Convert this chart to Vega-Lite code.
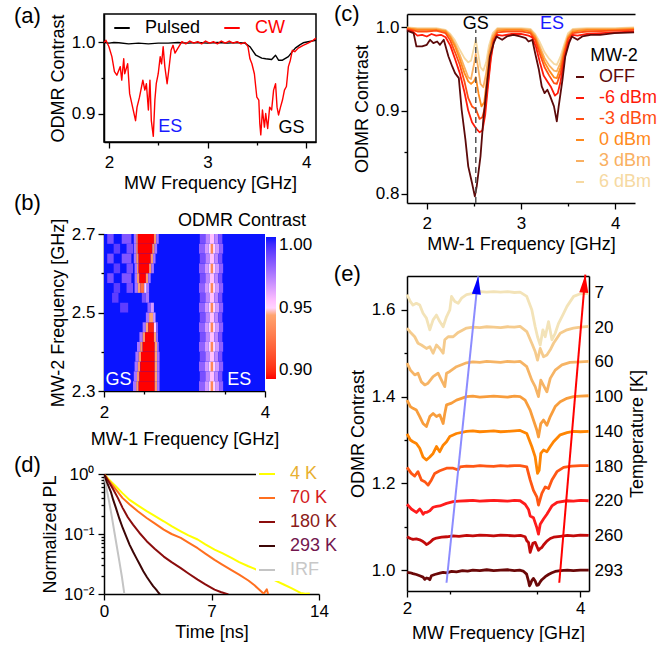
{
"$schema":"https://vega.github.io/schema/vega-lite/v6.json",
"background":"white",
"padding":{"left":13,"top":3,"right":0,"bottom":0},
"config":{
 "font":"Liberation Sans",
 "view":{"stroke":null},
 "axis":{"grid":false,"domainColor":"black","domainWidth":1.5,"tickColor":"black","tickWidth":1.3,"tickSize":6,"labelFont":"Liberation Sans","labelFontSize":17,"labelColor":"black","titleFont":"Liberation Sans","titleFontSize":18,"titleFontWeight":"normal","titleColor":"black","labelPadding":3,"titlePadding":4,"labelFlush":false,"labelOverlap":false},
 "legend":{"labelFont":"Liberation Sans","labelFontSize":18,"titleFont":"Liberation Sans","titleFontSize":18,"titleFontWeight":"normal","titleColor":"black","labelColor":"black"},
 "title":{"font":"Liberation Sans","fontSize":22,"fontWeight":"normal","color":"black","anchor":"start","frame":"group","baseline":"top"},
 "line":{"strokeJoin":"round"}
},
"datasets":{
 "a":[
  {"s":"Pulsed","f":1.95,"c":1.0},{"s":"Pulsed","f":2.0,"c":0.999},{"s":"Pulsed","f":2.05,"c":1.0},{"s":"Pulsed","f":2.1,"c":0.9995},{"s":"Pulsed","f":2.2,"c":0.998},{"s":"Pulsed","f":2.3,"c":0.999},{"s":"Pulsed","f":2.4,"c":0.998},{"s":"Pulsed","f":2.5,"c":0.999},{"s":"Pulsed","f":2.6,"c":0.999},{"s":"Pulsed","f":2.7,"c":1.0},{"s":"Pulsed","f":2.8,"c":0.999},{"s":"Pulsed","f":2.9,"c":1.0},{"s":"Pulsed","f":3.0,"c":0.999},{"s":"Pulsed","f":3.1,"c":1.0},{"s":"Pulsed","f":3.2,"c":0.999},{"s":"Pulsed","f":3.3,"c":1.0},{"s":"Pulsed","f":3.38,"c":0.999},{"s":"Pulsed","f":3.43,"c":0.994},{"s":"Pulsed","f":3.49,"c":0.982},{"s":"Pulsed","f":3.55,"c":0.978},{"s":"Pulsed","f":3.59,"c":0.977},{"s":"Pulsed","f":3.65,"c":0.976},{"s":"Pulsed","f":3.69,"c":0.982},{"s":"Pulsed","f":3.72,"c":0.975},{"s":"Pulsed","f":3.76,"c":0.975},{"s":"Pulsed","f":3.82,"c":0.98},{"s":"Pulsed","f":3.86,"c":0.987},{"s":"Pulsed","f":3.89,"c":0.992},{"s":"Pulsed","f":3.94,"c":0.997},{"s":"Pulsed","f":3.97,"c":0.9995},{"s":"Pulsed","f":4.02,"c":1.001},{"s":"Pulsed","f":4.1,"c":1.003},
  {"s":"CW","f":1.95,"c":1.0},{"s":"CW","f":1.97,"c":1.003},{"s":"CW","f":2.0,"c":0.994},{"s":"CW","f":2.03,"c":0.98},{"s":"CW","f":2.056,"c":0.959},{"s":"CW","f":2.08,"c":0.954},{"s":"CW","f":2.115,"c":0.966},{"s":"CW","f":2.13,"c":0.947},{"s":"CW","f":2.15,"c":0.977},{"s":"CW","f":2.16,"c":0.956},{"s":"CW","f":2.19,"c":0.97},{"s":"CW","f":2.21,"c":0.928},{"s":"CW","f":2.24,"c":0.909},{"s":"CW","f":2.27,"c":0.89},{"s":"CW","f":2.285,"c":0.909},{"s":"CW","f":2.31,"c":0.923},{"s":"CW","f":2.344,"c":0.947},{"s":"CW","f":2.364,"c":0.933},{"s":"CW","f":2.38,"c":0.942},{"s":"CW","f":2.4,"c":0.905},{"s":"CW","f":2.416,"c":0.947},{"s":"CW","f":2.43,"c":0.89},{"s":"CW","f":2.45,"c":0.868},{"s":"CW","f":2.466,"c":0.919},{"s":"CW","f":2.48,"c":0.942},{"s":"CW","f":2.5,"c":0.956},{"s":"CW","f":2.52,"c":0.98},{"s":"CW","f":2.534,"c":0.97},{"s":"CW","f":2.55,"c":0.994},{"s":"CW","f":2.567,"c":0.966},{"s":"CW","f":2.59,"c":0.942},{"s":"CW","f":2.607,"c":0.961},{"s":"CW","f":2.63,"c":0.989},{"s":"CW","f":2.65,"c":0.996},{"s":"CW","f":2.67,"c":0.985},{"s":"CW","f":2.7,"c":0.992},{"s":"CW","f":2.74,"c":1.001},{"s":"CW","f":2.78,"c":0.998},{"s":"CW","f":2.82,"c":1.002},{"s":"CW","f":2.86,"c":0.999},{"s":"CW","f":2.9,"c":1.001},{"s":"CW","f":2.94,"c":0.998},{"s":"CW","f":2.98,"c":1.002},{"s":"CW","f":3.02,"c":0.999},{"s":"CW","f":3.06,"c":1.001},{"s":"CW","f":3.1,"c":0.998},{"s":"CW","f":3.14,"c":1.002},{"s":"CW","f":3.18,"c":0.999},{"s":"CW","f":3.22,"c":1.002},{"s":"CW","f":3.26,"c":0.999},{"s":"CW","f":3.3,"c":1.001},{"s":"CW","f":3.34,"c":0.998},{"s":"CW","f":3.38,"c":1.0},{"s":"CW","f":3.41,"c":0.994},{"s":"CW","f":3.43,"c":0.977},{"s":"CW","f":3.45,"c":0.97},{"s":"CW","f":3.475,"c":0.956},{"s":"CW","f":3.5,"c":0.923},{"s":"CW","f":3.52,"c":0.919},{"s":"CW","f":3.53,"c":0.886},{"s":"CW","f":3.54,"c":0.87},{"s":"CW","f":3.557,"c":0.905},{"s":"CW","f":3.577,"c":0.881},{"s":"CW","f":3.59,"c":0.9},{"s":"CW","f":3.61,"c":0.879},{"s":"CW","f":3.63,"c":0.909},{"s":"CW","f":3.65,"c":0.905},{"s":"CW","f":3.67,"c":0.933},{"s":"CW","f":3.69,"c":0.942},{"s":"CW","f":3.705,"c":0.909},{"s":"CW","f":3.72,"c":0.898},{"s":"CW","f":3.74,"c":0.909},{"s":"CW","f":3.76,"c":0.919},{"s":"CW","f":3.78,"c":0.933},{"s":"CW","f":3.8,"c":0.938},{"s":"CW","f":3.82,"c":0.966},{"s":"CW","f":3.84,"c":0.975},{"s":"CW","f":3.86,"c":0.989},{"s":"CW","f":3.885,"c":0.987},{"s":"CW","f":3.92,"c":0.992},{"s":"CW","f":3.97,"c":0.996},{"s":"CW","f":4.02,"c":0.999},{"s":"CW","f":4.07,"c":1.003},{"s":"CW","f":4.1,"c":1.006}
 ],
 "aTxt":[{"t":"ES","x":2.5,"y":0.881},{"t":"GS","x":3.72,"y":0.879}],
 "b":[
  {"x1":2,"x2":4,"y1":2.3,"y2":2.7,"v":1.0},
  {"x1":2.36,"x2":2.4,"y1":2.3,"y2":2.325,"v":0.975},{"x1":2.4,"x2":2.43,"y1":2.3,"y2":2.325,"v":0.94},{"x1":2.43,"x2":2.63,"y1":2.3,"y2":2.325,"v":0.885},{"x1":2.63,"x2":2.66,"y1":2.3,"y2":2.325,"v":0.94},{"x1":2.66,"x2":2.69,"y1":2.3,"y2":2.325,"v":0.975},
  {"x1":3.18,"x2":3.25,"y1":2.3,"y2":2.325,"v":0.98},{"x1":3.25,"x2":3.3,"y1":2.3,"y2":2.325,"v":0.965},{"x1":3.3,"x2":3.38,"y1":2.3,"y2":2.325,"v":0.95},{"x1":3.38,"x2":3.43,"y1":2.3,"y2":2.325,"v":0.965},{"x1":3.43,"x2":3.48,"y1":2.3,"y2":2.325,"v":0.98},{"x1":3.325,"x2":3.355,"y1":2.3,"y2":2.325,"v":0.935},
  {"x1":2.37,"x2":2.41,"y1":2.325,"y2":2.35,"v":0.975},{"x1":2.41,"x2":2.44,"y1":2.325,"y2":2.35,"v":0.94},{"x1":2.44,"x2":2.63,"y1":2.325,"y2":2.35,"v":0.88},{"x1":2.63,"x2":2.66,"y1":2.325,"y2":2.35,"v":0.945},{"x1":2.66,"x2":2.69,"y1":2.325,"y2":2.35,"v":0.975},
  {"x1":3.19,"x2":3.26,"y1":2.325,"y2":2.35,"v":0.985},{"x1":3.26,"x2":3.31,"y1":2.325,"y2":2.35,"v":0.97},{"x1":3.31,"x2":3.37,"y1":2.325,"y2":2.35,"v":0.955},{"x1":3.37,"x2":3.42,"y1":2.325,"y2":2.35,"v":0.97},{"x1":3.42,"x2":3.47,"y1":2.325,"y2":2.35,"v":0.985},
  {"x1":2.38,"x2":2.42,"y1":2.35,"y2":2.375,"v":0.975},{"x1":2.42,"x2":2.45,"y1":2.35,"y2":2.375,"v":0.94},{"x1":2.45,"x2":2.63,"y1":2.35,"y2":2.375,"v":0.885},{"x1":2.63,"x2":2.66,"y1":2.35,"y2":2.375,"v":0.945},{"x1":2.66,"x2":2.69,"y1":2.35,"y2":2.375,"v":0.975},
  {"x1":3.18,"x2":3.25,"y1":2.35,"y2":2.375,"v":0.98},{"x1":3.25,"x2":3.3,"y1":2.35,"y2":2.375,"v":0.965},{"x1":3.3,"x2":3.38,"y1":2.35,"y2":2.375,"v":0.95},{"x1":3.38,"x2":3.43,"y1":2.35,"y2":2.375,"v":0.965},{"x1":3.43,"x2":3.48,"y1":2.35,"y2":2.375,"v":0.98},{"x1":3.325,"x2":3.355,"y1":2.35,"y2":2.375,"v":0.935},
  {"x1":2.39,"x2":2.43,"y1":2.375,"y2":2.4,"v":0.975},{"x1":2.43,"x2":2.46,"y1":2.375,"y2":2.4,"v":0.94},{"x1":2.46,"x2":2.63,"y1":2.375,"y2":2.4,"v":0.885},{"x1":2.63,"x2":2.66,"y1":2.375,"y2":2.4,"v":0.945},{"x1":2.66,"x2":2.69,"y1":2.375,"y2":2.4,"v":0.975},
  {"x1":3.19,"x2":3.26,"y1":2.375,"y2":2.4,"v":0.985},{"x1":3.26,"x2":3.31,"y1":2.375,"y2":2.4,"v":0.97},{"x1":3.31,"x2":3.37,"y1":2.375,"y2":2.4,"v":0.955},{"x1":3.37,"x2":3.42,"y1":2.375,"y2":2.4,"v":0.97},{"x1":3.42,"x2":3.47,"y1":2.375,"y2":2.4,"v":0.985},
  {"x1":2.41,"x2":2.45,"y1":2.4,"y2":2.425,"v":0.975},{"x1":2.45,"x2":2.48,"y1":2.4,"y2":2.425,"v":0.94},{"x1":2.48,"x2":2.63,"y1":2.4,"y2":2.425,"v":0.89},{"x1":2.63,"x2":2.66,"y1":2.4,"y2":2.425,"v":0.945},{"x1":2.66,"x2":2.68,"y1":2.4,"y2":2.425,"v":0.975},
  {"x1":3.18,"x2":3.25,"y1":2.4,"y2":2.425,"v":0.98},{"x1":3.25,"x2":3.3,"y1":2.4,"y2":2.425,"v":0.965},{"x1":3.3,"x2":3.38,"y1":2.4,"y2":2.425,"v":0.95},{"x1":3.38,"x2":3.43,"y1":2.4,"y2":2.425,"v":0.965},{"x1":3.43,"x2":3.48,"y1":2.4,"y2":2.425,"v":0.98},{"x1":3.325,"x2":3.355,"y1":2.4,"y2":2.425,"v":0.935},
  {"x1":2.44,"x2":2.48,"y1":2.425,"y2":2.45,"v":0.975},{"x1":2.48,"x2":2.51,"y1":2.425,"y2":2.45,"v":0.94},{"x1":2.51,"x2":2.62,"y1":2.425,"y2":2.45,"v":0.895},{"x1":2.62,"x2":2.65,"y1":2.425,"y2":2.45,"v":0.945},{"x1":2.65,"x2":2.67,"y1":2.425,"y2":2.45,"v":0.975},
  {"x1":3.19,"x2":3.26,"y1":2.425,"y2":2.45,"v":0.985},{"x1":3.26,"x2":3.31,"y1":2.425,"y2":2.45,"v":0.97},{"x1":3.31,"x2":3.37,"y1":2.425,"y2":2.45,"v":0.955},{"x1":3.37,"x2":3.42,"y1":2.425,"y2":2.45,"v":0.97},{"x1":3.42,"x2":3.47,"y1":2.425,"y2":2.45,"v":0.985},
  {"x1":2.48,"x2":2.52,"y1":2.45,"y2":2.475,"v":0.975},{"x1":2.52,"x2":2.55,"y1":2.45,"y2":2.475,"v":0.945},{"x1":2.55,"x2":2.62,"y1":2.45,"y2":2.475,"v":0.905},{"x1":2.62,"x2":2.65,"y1":2.45,"y2":2.475,"v":0.95},{"x1":2.65,"x2":2.67,"y1":2.45,"y2":2.475,"v":0.98},
  {"x1":3.18,"x2":3.25,"y1":2.45,"y2":2.475,"v":0.98},{"x1":3.25,"x2":3.3,"y1":2.45,"y2":2.475,"v":0.965},{"x1":3.3,"x2":3.38,"y1":2.45,"y2":2.475,"v":0.95},{"x1":3.38,"x2":3.43,"y1":2.45,"y2":2.475,"v":0.965},{"x1":3.43,"x2":3.48,"y1":2.45,"y2":2.475,"v":0.98},{"x1":3.325,"x2":3.355,"y1":2.45,"y2":2.475,"v":0.935},
  {"x1":2.52,"x2":2.56,"y1":2.475,"y2":2.5,"v":0.975},{"x1":2.56,"x2":2.61,"y1":2.475,"y2":2.5,"v":0.945},{"x1":2.61,"x2":2.64,"y1":2.475,"y2":2.5,"v":0.965},
  {"x1":3.19,"x2":3.26,"y1":2.475,"y2":2.5,"v":0.985},{"x1":3.26,"x2":3.31,"y1":2.475,"y2":2.5,"v":0.97},{"x1":3.31,"x2":3.37,"y1":2.475,"y2":2.5,"v":0.955},{"x1":3.37,"x2":3.42,"y1":2.475,"y2":2.5,"v":0.97},{"x1":3.42,"x2":3.47,"y1":2.475,"y2":2.5,"v":0.985},
  {"x1":2.54,"x2":2.58,"y1":2.5,"y2":2.525,"v":0.98},{"x1":2.58,"x2":2.62,"y1":2.5,"y2":2.525,"v":0.965},{"x1":2.2,"x2":2.3,"y1":2.5,"y2":2.525,"v":0.99},
  {"x1":3.18,"x2":3.25,"y1":2.5,"y2":2.525,"v":0.98},{"x1":3.25,"x2":3.3,"y1":2.5,"y2":2.525,"v":0.965},{"x1":3.3,"x2":3.38,"y1":2.5,"y2":2.525,"v":0.95},{"x1":3.38,"x2":3.43,"y1":2.5,"y2":2.525,"v":0.965},{"x1":3.43,"x2":3.48,"y1":2.5,"y2":2.525,"v":0.98},{"x1":3.325,"x2":3.355,"y1":2.5,"y2":2.525,"v":0.935},
  {"x1":2.47,"x2":2.52,"y1":2.525,"y2":2.55,"v":0.985},{"x1":2.52,"x2":2.56,"y1":2.525,"y2":2.55,"v":0.975},{"x1":2.1,"x2":2.18,"y1":2.525,"y2":2.55,"v":0.99},
  {"x1":3.19,"x2":3.26,"y1":2.525,"y2":2.55,"v":0.985},{"x1":3.26,"x2":3.31,"y1":2.525,"y2":2.55,"v":0.97},{"x1":3.31,"x2":3.37,"y1":2.525,"y2":2.55,"v":0.955},{"x1":3.37,"x2":3.42,"y1":2.525,"y2":2.55,"v":0.97},{"x1":3.42,"x2":3.47,"y1":2.525,"y2":2.55,"v":0.985},
  {"x1":2.38,"x2":2.42,"y1":2.55,"y2":2.575,"v":0.975},{"x1":2.42,"x2":2.45,"y1":2.55,"y2":2.575,"v":0.945},{"x1":2.45,"x2":2.5,"y1":2.55,"y2":2.575,"v":0.925},{"x1":2.5,"x2":2.53,"y1":2.55,"y2":2.575,"v":0.95},{"x1":2.53,"x2":2.56,"y1":2.55,"y2":2.575,"v":0.975},{"x1":2.12,"x2":2.2,"y1":2.55,"y2":2.575,"v":0.99},{"x1":2.28,"x2":2.36,"y1":2.55,"y2":2.575,"v":0.985},
  {"x1":3.18,"x2":3.25,"y1":2.55,"y2":2.575,"v":0.98},{"x1":3.25,"x2":3.3,"y1":2.55,"y2":2.575,"v":0.965},{"x1":3.3,"x2":3.38,"y1":2.55,"y2":2.575,"v":0.95},{"x1":3.38,"x2":3.43,"y1":2.55,"y2":2.575,"v":0.965},{"x1":3.43,"x2":3.48,"y1":2.55,"y2":2.575,"v":0.98},{"x1":3.325,"x2":3.355,"y1":2.55,"y2":2.575,"v":0.935},
  {"x1":2.38,"x2":2.41,"y1":2.575,"y2":2.6,"v":0.975},{"x1":2.41,"x2":2.44,"y1":2.575,"y2":2.6,"v":0.94},{"x1":2.44,"x2":2.52,"y1":2.575,"y2":2.6,"v":0.89},{"x1":2.52,"x2":2.55,"y1":2.575,"y2":2.6,"v":0.94},{"x1":2.55,"x2":2.58,"y1":2.575,"y2":2.6,"v":0.975},{"x1":2.04,"x2":2.12,"y1":2.575,"y2":2.6,"v":0.985},{"x1":2.22,"x2":2.34,"y1":2.575,"y2":2.6,"v":0.983},
  {"x1":3.19,"x2":3.26,"y1":2.575,"y2":2.6,"v":0.985},{"x1":3.26,"x2":3.31,"y1":2.575,"y2":2.6,"v":0.97},{"x1":3.31,"x2":3.37,"y1":2.575,"y2":2.6,"v":0.955},{"x1":3.37,"x2":3.42,"y1":2.575,"y2":2.6,"v":0.97},{"x1":3.42,"x2":3.47,"y1":2.575,"y2":2.6,"v":0.985},
  {"x1":2.38,"x2":2.41,"y1":2.6,"y2":2.625,"v":0.975},{"x1":2.41,"x2":2.43,"y1":2.6,"y2":2.625,"v":0.94},{"x1":2.43,"x2":2.56,"y1":2.6,"y2":2.625,"v":0.885},{"x1":2.56,"x2":2.59,"y1":2.6,"y2":2.625,"v":0.94},{"x1":2.59,"x2":2.62,"y1":2.6,"y2":2.625,"v":0.975},{"x1":2.12,"x2":2.2,"y1":2.6,"y2":2.625,"v":0.99},{"x1":2.28,"x2":2.36,"y1":2.6,"y2":2.625,"v":0.985},
  {"x1":3.18,"x2":3.25,"y1":2.6,"y2":2.625,"v":0.98},{"x1":3.25,"x2":3.3,"y1":2.6,"y2":2.625,"v":0.965},{"x1":3.3,"x2":3.38,"y1":2.6,"y2":2.625,"v":0.95},{"x1":3.38,"x2":3.43,"y1":2.6,"y2":2.625,"v":0.965},{"x1":3.43,"x2":3.48,"y1":2.6,"y2":2.625,"v":0.98},{"x1":3.325,"x2":3.355,"y1":2.6,"y2":2.625,"v":0.935},
  {"x1":2.37,"x2":2.4,"y1":2.625,"y2":2.65,"v":0.975},{"x1":2.4,"x2":2.43,"y1":2.625,"y2":2.65,"v":0.94},{"x1":2.43,"x2":2.58,"y1":2.625,"y2":2.65,"v":0.88},{"x1":2.58,"x2":2.61,"y1":2.625,"y2":2.65,"v":0.94},{"x1":2.61,"x2":2.64,"y1":2.625,"y2":2.65,"v":0.975},{"x1":2.04,"x2":2.12,"y1":2.625,"y2":2.65,"v":0.985},{"x1":2.22,"x2":2.34,"y1":2.625,"y2":2.65,"v":0.983},
  {"x1":3.19,"x2":3.26,"y1":2.625,"y2":2.65,"v":0.985},{"x1":3.26,"x2":3.31,"y1":2.625,"y2":2.65,"v":0.97},{"x1":3.31,"x2":3.37,"y1":2.625,"y2":2.65,"v":0.955},{"x1":3.37,"x2":3.42,"y1":2.625,"y2":2.65,"v":0.97},{"x1":3.42,"x2":3.47,"y1":2.625,"y2":2.65,"v":0.985},
  {"x1":2.37,"x2":2.4,"y1":2.65,"y2":2.675,"v":0.975},{"x1":2.4,"x2":2.42,"y1":2.65,"y2":2.675,"v":0.94},{"x1":2.42,"x2":2.6,"y1":2.65,"y2":2.675,"v":0.88},{"x1":2.6,"x2":2.63,"y1":2.65,"y2":2.675,"v":0.94},{"x1":2.63,"x2":2.66,"y1":2.65,"y2":2.675,"v":0.975},{"x1":2.12,"x2":2.2,"y1":2.65,"y2":2.675,"v":0.99},{"x1":2.28,"x2":2.36,"y1":2.65,"y2":2.675,"v":0.985},
  {"x1":3.18,"x2":3.25,"y1":2.65,"y2":2.675,"v":0.98},{"x1":3.25,"x2":3.3,"y1":2.65,"y2":2.675,"v":0.965},{"x1":3.3,"x2":3.38,"y1":2.65,"y2":2.675,"v":0.95},{"x1":3.38,"x2":3.43,"y1":2.65,"y2":2.675,"v":0.965},{"x1":3.43,"x2":3.48,"y1":2.65,"y2":2.675,"v":0.98},{"x1":3.325,"x2":3.355,"y1":2.65,"y2":2.675,"v":0.935},
  {"x1":2.37,"x2":2.4,"y1":2.675,"y2":2.7,"v":0.975},{"x1":2.4,"x2":2.42,"y1":2.675,"y2":2.7,"v":0.94},{"x1":2.42,"x2":2.62,"y1":2.675,"y2":2.7,"v":0.88},{"x1":2.62,"x2":2.65,"y1":2.675,"y2":2.7,"v":0.94},{"x1":2.65,"x2":2.68,"y1":2.675,"y2":2.7,"v":0.975},{"x1":2.04,"x2":2.12,"y1":2.675,"y2":2.7,"v":0.985},{"x1":2.22,"x2":2.34,"y1":2.675,"y2":2.7,"v":0.983},
  {"x1":3.19,"x2":3.26,"y1":2.675,"y2":2.7,"v":0.985},{"x1":3.26,"x2":3.31,"y1":2.675,"y2":2.7,"v":0.97},{"x1":3.31,"x2":3.37,"y1":2.675,"y2":2.7,"v":0.955},{"x1":3.37,"x2":3.42,"y1":2.675,"y2":2.7,"v":0.97},{"x1":3.42,"x2":3.47,"y1":2.675,"y2":2.7,"v":0.985}
 ],
 "bTxt":[{"t":"GS","x":2.02,"y":2.328},{"t":"ES","x":3.53,"y":2.328}],
 "bLbl":[{"t":"ODMR Contrast","x":4.509,"y":2.733}],
 "c":[
  {"p":"6 dBm","f":1.79,"c":1.0},{"p":"6 dBm","f":1.9,"c":0.999},{"p":"6 dBm","f":2.0,"c":0.999},{"p":"6 dBm","f":2.1,"c":0.999},{"p":"6 dBm","f":2.2,"c":0.997},{"p":"6 dBm","f":2.25,"c":0.992},{"p":"6 dBm","f":2.3,"c":0.984},{"p":"6 dBm","f":2.35,"c":0.973},{"p":"6 dBm","f":2.4,"c":0.963},{"p":"6 dBm","f":2.44,"c":0.958},{"p":"6 dBm","f":2.47,"c":0.96},{"p":"6 dBm","f":2.5,"c":0.975},{"p":"6 dBm","f":2.52,"c":0.985},{"p":"6 dBm","f":2.54,"c":0.972},{"p":"6 dBm","f":2.57,"c":0.952},{"p":"6 dBm","f":2.6,"c":0.948},{"p":"6 dBm","f":2.63,"c":0.958},{"p":"6 dBm","f":2.66,"c":0.978},{"p":"6 dBm","f":2.7,"c":0.993},{"p":"6 dBm","f":2.75,"c":0.999},{"p":"6 dBm","f":2.85,"c":0.999},{"p":"6 dBm","f":3.0,"c":0.999},{"p":"6 dBm","f":3.1,"c":0.998},{"p":"6 dBm","f":3.15,"c":0.992},{"p":"6 dBm","f":3.2,"c":0.982},{"p":"6 dBm","f":3.25,"c":0.97},{"p":"6 dBm","f":3.3,"c":0.962},{"p":"6 dBm","f":3.35,"c":0.956},{"p":"6 dBm","f":3.38,"c":0.955},{"p":"6 dBm","f":3.42,"c":0.965},{"p":"6 dBm","f":3.46,"c":0.98},{"p":"6 dBm","f":3.5,"c":0.993},{"p":"6 dBm","f":3.55,"c":0.998},{"p":"6 dBm","f":3.7,"c":0.999},{"p":"6 dBm","f":4.0,"c":0.999},{"p":"6 dBm","f":4.2,"c":1.0},
  {"p":"3 dBm","f":1.79,"c":0.999},{"p":"3 dBm","f":1.9,"c":0.998},{"p":"3 dBm","f":2.0,"c":0.998},{"p":"3 dBm","f":2.1,"c":0.998},{"p":"3 dBm","f":2.2,"c":0.996},{"p":"3 dBm","f":2.25,"c":0.99},{"p":"3 dBm","f":2.3,"c":0.98},{"p":"3 dBm","f":2.35,"c":0.967},{"p":"3 dBm","f":2.4,"c":0.952},{"p":"3 dBm","f":2.44,"c":0.94},{"p":"3 dBm","f":2.47,"c":0.938},{"p":"3 dBm","f":2.5,"c":0.955},{"p":"3 dBm","f":2.52,"c":0.968},{"p":"3 dBm","f":2.54,"c":0.955},{"p":"3 dBm","f":2.57,"c":0.932},{"p":"3 dBm","f":2.6,"c":0.928},{"p":"3 dBm","f":2.63,"c":0.945},{"p":"3 dBm","f":2.66,"c":0.97},{"p":"3 dBm","f":2.7,"c":0.99},{"p":"3 dBm","f":2.75,"c":0.998},{"p":"3 dBm","f":2.85,"c":0.998},{"p":"3 dBm","f":3.0,"c":0.998},{"p":"3 dBm","f":3.1,"c":0.997},{"p":"3 dBm","f":3.15,"c":0.99},{"p":"3 dBm","f":3.2,"c":0.977},{"p":"3 dBm","f":3.25,"c":0.963},{"p":"3 dBm","f":3.3,"c":0.954},{"p":"3 dBm","f":3.35,"c":0.948},{"p":"3 dBm","f":3.38,"c":0.947},{"p":"3 dBm","f":3.42,"c":0.958},{"p":"3 dBm","f":3.46,"c":0.976},{"p":"3 dBm","f":3.5,"c":0.99},{"p":"3 dBm","f":3.55,"c":0.997},{"p":"3 dBm","f":3.7,"c":0.998},{"p":"3 dBm","f":4.0,"c":0.998},{"p":"3 dBm","f":4.2,"c":0.999},
  {"p":"0 dBm","f":1.79,"c":0.999},{"p":"0 dBm","f":1.9,"c":0.997},{"p":"0 dBm","f":2.0,"c":0.997},{"p":"0 dBm","f":2.1,"c":0.997},{"p":"0 dBm","f":2.2,"c":0.995},{"p":"0 dBm","f":2.25,"c":0.988},{"p":"0 dBm","f":2.3,"c":0.977},{"p":"0 dBm","f":2.35,"c":0.962},{"p":"0 dBm","f":2.4,"c":0.945},{"p":"0 dBm","f":2.44,"c":0.935},{"p":"0 dBm","f":2.47,"c":0.932},{"p":"0 dBm","f":2.5,"c":0.935},{"p":"0 dBm","f":2.52,"c":0.94},{"p":"0 dBm","f":2.55,"c":0.92},{"p":"0 dBm","f":2.58,"c":0.905},{"p":"0 dBm","f":2.61,"c":0.91},{"p":"0 dBm","f":2.64,"c":0.94},{"p":"0 dBm","f":2.67,"c":0.968},{"p":"0 dBm","f":2.7,"c":0.986},{"p":"0 dBm","f":2.75,"c":0.996},{"p":"0 dBm","f":2.85,"c":0.997},{"p":"0 dBm","f":3.0,"c":0.997},{"p":"0 dBm","f":3.1,"c":0.995},{"p":"0 dBm","f":3.15,"c":0.988},{"p":"0 dBm","f":3.2,"c":0.973},{"p":"0 dBm","f":3.25,"c":0.958},{"p":"0 dBm","f":3.3,"c":0.948},{"p":"0 dBm","f":3.35,"c":0.94},{"p":"0 dBm","f":3.38,"c":0.939},{"p":"0 dBm","f":3.42,"c":0.952},{"p":"0 dBm","f":3.46,"c":0.972},{"p":"0 dBm","f":3.5,"c":0.988},{"p":"0 dBm","f":3.55,"c":0.995},{"p":"0 dBm","f":3.7,"c":0.997},{"p":"0 dBm","f":4.0,"c":0.997},{"p":"0 dBm","f":4.2,"c":0.998},
  {"p":"-3 dBm","f":1.79,"c":0.998},{"p":"-3 dBm","f":1.9,"c":0.995},{"p":"-3 dBm","f":2.0,"c":0.995},{"p":"-3 dBm","f":2.1,"c":0.996},{"p":"-3 dBm","f":2.2,"c":0.993},{"p":"-3 dBm","f":2.25,"c":0.984},{"p":"-3 dBm","f":2.3,"c":0.97},{"p":"-3 dBm","f":2.35,"c":0.955},{"p":"-3 dBm","f":2.4,"c":0.935},{"p":"-3 dBm","f":2.44,"c":0.915},{"p":"-3 dBm","f":2.48,"c":0.905},{"p":"-3 dBm","f":2.52,"c":0.902},{"p":"-3 dBm","f":2.56,"c":0.89},{"p":"-3 dBm","f":2.59,"c":0.892},{"p":"-3 dBm","f":2.62,"c":0.905},{"p":"-3 dBm","f":2.65,"c":0.935},{"p":"-3 dBm","f":2.68,"c":0.965},{"p":"-3 dBm","f":2.71,"c":0.985},{"p":"-3 dBm","f":2.75,"c":0.994},{"p":"-3 dBm","f":2.85,"c":0.995},{"p":"-3 dBm","f":3.0,"c":0.995},{"p":"-3 dBm","f":3.1,"c":0.993},{"p":"-3 dBm","f":3.15,"c":0.985},{"p":"-3 dBm","f":3.2,"c":0.968},{"p":"-3 dBm","f":3.25,"c":0.952},{"p":"-3 dBm","f":3.3,"c":0.942},{"p":"-3 dBm","f":3.35,"c":0.933},{"p":"-3 dBm","f":3.38,"c":0.932},{"p":"-3 dBm","f":3.42,"c":0.945},{"p":"-3 dBm","f":3.46,"c":0.968},{"p":"-3 dBm","f":3.5,"c":0.986},{"p":"-3 dBm","f":3.55,"c":0.993},{"p":"-3 dBm","f":3.7,"c":0.995},{"p":"-3 dBm","f":4.0,"c":0.996},{"p":"-3 dBm","f":4.2,"c":0.997},
  {"p":"-6 dBm","f":1.79,"c":0.997},{"p":"-6 dBm","f":1.85,"c":0.995},{"p":"-6 dBm","f":1.9,"c":0.99},{"p":"-6 dBm","f":1.95,"c":0.991},{"p":"-6 dBm","f":2.0,"c":0.989},{"p":"-6 dBm","f":2.05,"c":0.992},{"p":"-6 dBm","f":2.1,"c":0.99},{"p":"-6 dBm","f":2.15,"c":0.991},{"p":"-6 dBm","f":2.2,"c":0.988},{"p":"-6 dBm","f":2.25,"c":0.978},{"p":"-6 dBm","f":2.3,"c":0.962},{"p":"-6 dBm","f":2.35,"c":0.945},{"p":"-6 dBm","f":2.4,"c":0.922},{"p":"-6 dBm","f":2.44,"c":0.9},{"p":"-6 dBm","f":2.48,"c":0.886},{"p":"-6 dBm","f":2.52,"c":0.879},{"p":"-6 dBm","f":2.56,"c":0.874},{"p":"-6 dBm","f":2.59,"c":0.876},{"p":"-6 dBm","f":2.62,"c":0.895},{"p":"-6 dBm","f":2.65,"c":0.93},{"p":"-6 dBm","f":2.68,"c":0.962},{"p":"-6 dBm","f":2.71,"c":0.983},{"p":"-6 dBm","f":2.75,"c":0.991},{"p":"-6 dBm","f":2.8,"c":0.99},{"p":"-6 dBm","f":2.9,"c":0.992},{"p":"-6 dBm","f":3.0,"c":0.992},{"p":"-6 dBm","f":3.08,"c":0.99},{"p":"-6 dBm","f":3.12,"c":0.988},{"p":"-6 dBm","f":3.16,"c":0.976},{"p":"-6 dBm","f":3.2,"c":0.958},{"p":"-6 dBm","f":3.24,"c":0.942},{"p":"-6 dBm","f":3.28,"c":0.935},{"p":"-6 dBm","f":3.32,"c":0.928},{"p":"-6 dBm","f":3.36,"c":0.918},{"p":"-6 dBm","f":3.39,"c":0.921},{"p":"-6 dBm","f":3.42,"c":0.935},{"p":"-6 dBm","f":3.46,"c":0.962},{"p":"-6 dBm","f":3.5,"c":0.982},{"p":"-6 dBm","f":3.55,"c":0.991},{"p":"-6 dBm","f":3.6,"c":0.99},{"p":"-6 dBm","f":3.7,"c":0.992},{"p":"-6 dBm","f":3.85,"c":0.993},{"p":"-6 dBm","f":4.0,"c":0.994},{"p":"-6 dBm","f":4.2,"c":0.995},
  {"p":"OFF","f":1.79,"c":0.996},{"p":"OFF","f":1.86,"c":0.993},{"p":"OFF","f":1.89,"c":0.977},{"p":"OFF","f":1.95,"c":0.977},{"p":"OFF","f":2.0,"c":0.979},{"p":"OFF","f":2.035,"c":0.985},{"p":"OFF","f":2.07,"c":0.981},{"p":"OFF","f":2.11,"c":0.983},{"p":"OFF","f":2.14,"c":0.979},{"p":"OFF","f":2.18,"c":0.985},{"p":"OFF","f":2.23,"c":0.965},{"p":"OFF","f":2.27,"c":0.953},{"p":"OFF","f":2.3,"c":0.945},{"p":"OFF","f":2.34,"c":0.939},{"p":"OFF","f":2.37,"c":0.901},{"p":"OFF","f":2.41,"c":0.865},{"p":"OFF","f":2.44,"c":0.833},{"p":"OFF","f":2.48,"c":0.813},{"p":"OFF","f":2.51,"c":0.797},{"p":"OFF","f":2.53,"c":0.809},{"p":"OFF","f":2.57,"c":0.845},{"p":"OFF","f":2.6,"c":0.889},{"p":"OFF","f":2.64,"c":0.933},{"p":"OFF","f":2.67,"c":0.965},{"p":"OFF","f":2.71,"c":0.981},{"p":"OFF","f":2.74,"c":0.989},{"p":"OFF","f":2.8,"c":0.985},{"p":"OFF","f":2.85,"c":0.989},{"p":"OFF","f":2.92,"c":0.991},{"p":"OFF","f":2.99,"c":0.989},{"p":"OFF","f":3.05,"c":0.987},{"p":"OFF","f":3.08,"c":0.983},{"p":"OFF","f":3.12,"c":0.985},{"p":"OFF","f":3.15,"c":0.969},{"p":"OFF","f":3.19,"c":0.949},{"p":"OFF","f":3.22,"c":0.929},{"p":"OFF","f":3.25,"c":0.921},{"p":"OFF","f":3.28,"c":0.925},{"p":"OFF","f":3.31,"c":0.917},{"p":"OFF","f":3.35,"c":0.905},{"p":"OFF","f":3.38,"c":0.887},{"p":"OFF","f":3.4,"c":0.905},{"p":"OFF","f":3.44,"c":0.937},{"p":"OFF","f":3.47,"c":0.965},{"p":"OFF","f":3.51,"c":0.981},{"p":"OFF","f":3.54,"c":0.989},{"p":"OFF","f":3.6,"c":0.985},{"p":"OFF","f":3.65,"c":0.989},{"p":"OFF","f":3.74,"c":0.991},{"p":"OFF","f":3.84,"c":0.991},{"p":"OFF","f":3.99,"c":0.993},{"p":"OFF","f":4.2,"c":0.994}
 ],
 "cRule":[{"x":2.52,"y1":0.789,"y2":0.997}],
 "cTxt":[{"t":"GS","x":2.52,"y":1.004},{"t":"ES","x":3.33,"y":1.004}],
 "d":[
  {"s":"IRF","t":0,"v":1},{"s":"IRF","t":0.15,"v":0.6},{"s":"IRF","t":0.33,"v":0.35},{"s":"IRF","t":0.5,"v":0.2},{"s":"IRF","t":0.67,"v":0.11},{"s":"IRF","t":0.83,"v":0.063},{"s":"IRF","t":1.0,"v":0.035},{"s":"IRF","t":1.17,"v":0.019},{"s":"IRF","t":1.33,"v":0.0098},
  {"s":"4 K","t":0,"v":1},{"s":"4 K","t":0.3,"v":0.82},{"s":"4 K","t":0.78,"v":0.62},{"s":"4 K","t":1.2,"v":0.48},{"s":"4 K","t":1.67,"v":0.37},{"s":"4 K","t":2.2,"v":0.3},{"s":"4 K","t":2.78,"v":0.24},{"s":"4 K","t":3.3,"v":0.2},{"s":"4 K","t":3.89,"v":0.163},{"s":"4 K","t":4.4,"v":0.135},{"s":"4 K","t":5.0,"v":0.111},{"s":"4 K","t":5.5,"v":0.095},{"s":"4 K","t":6.1,"v":0.081},{"s":"4 K","t":6.6,"v":0.067},{"s":"4 K","t":7.2,"v":0.055},{"s":"4 K","t":7.7,"v":0.048},{"s":"4 K","t":8.3,"v":0.04},{"s":"4 K","t":8.8,"v":0.034},{"s":"4 K","t":9.4,"v":0.029},{"s":"4 K","t":9.7,"v":0.027},{"s":"4 K","t":10.0,"v":0.025},{"s":"4 K","t":10.6,"v":0.021},{"s":"4 K","t":11.1,"v":0.017},{"s":"4 K","t":11.7,"v":0.0144},{"s":"4 K","t":12.2,"v":0.0125},{"s":"4 K","t":12.8,"v":0.0104},{"s":"4 K","t":13.1,"v":0.0101},{"s":"4 K","t":13.4,"v":0.0102},
  {"s":"70 K","t":0,"v":1},{"s":"70 K","t":0.3,"v":0.78},{"s":"70 K","t":0.78,"v":0.55},{"s":"70 K","t":1.2,"v":0.4},{"s":"70 K","t":1.67,"v":0.31},{"s":"70 K","t":2.2,"v":0.24},{"s":"70 K","t":2.78,"v":0.185},{"s":"70 K","t":3.3,"v":0.15},{"s":"70 K","t":3.89,"v":0.118},{"s":"70 K","t":4.4,"v":0.1},{"s":"70 K","t":5.0,"v":0.086},{"s":"70 K","t":5.5,"v":0.072},{"s":"70 K","t":6.1,"v":0.058},{"s":"70 K","t":6.6,"v":0.047},{"s":"70 K","t":7.2,"v":0.037},{"s":"70 K","t":7.7,"v":0.031},{"s":"70 K","t":8.3,"v":0.025},{"s":"70 K","t":8.8,"v":0.021},{"s":"70 K","t":9.4,"v":0.0168},{"s":"70 K","t":9.8,"v":0.014},{"s":"70 K","t":10.1,"v":0.0119},{"s":"70 K","t":10.4,"v":0.0101},{"s":"70 K","t":10.6,"v":0.012},{"s":"70 K","t":10.7,"v":0.0096},
  {"s":"180 K","t":0,"v":1},{"s":"180 K","t":0.3,"v":0.75},{"s":"180 K","t":0.56,"v":0.58},{"s":"180 K","t":0.9,"v":0.4},{"s":"180 K","t":1.22,"v":0.27},{"s":"180 K","t":1.55,"v":0.19},{"s":"180 K","t":1.89,"v":0.143},{"s":"180 K","t":2.3,"v":0.105},{"s":"180 K","t":2.78,"v":0.076},{"s":"180 K","t":3.3,"v":0.057},{"s":"180 K","t":3.89,"v":0.042},{"s":"180 K","t":4.4,"v":0.034},{"s":"180 K","t":5.0,"v":0.027},{"s":"180 K","t":5.5,"v":0.022},{"s":"180 K","t":6.1,"v":0.0174},{"s":"180 K","t":6.6,"v":0.0145},{"s":"180 K","t":7.2,"v":0.0118},{"s":"180 K","t":7.6,"v":0.0108},{"s":"180 K","t":8.1,"v":0.0098},
  {"s":"293 K","t":0,"v":1},{"s":"293 K","t":0.2,"v":0.72},{"s":"293 K","t":0.44,"v":0.51},{"s":"293 K","t":0.6,"v":0.37},{"s":"293 K","t":0.78,"v":0.27},{"s":"293 K","t":1.0,"v":0.18},{"s":"293 K","t":1.22,"v":0.126},{"s":"293 K","t":1.45,"v":0.09},{"s":"293 K","t":1.67,"v":0.066},{"s":"293 K","t":1.9,"v":0.05},{"s":"293 K","t":2.1,"v":0.04},{"s":"293 K","t":2.33,"v":0.031},{"s":"293 K","t":2.56,"v":0.024},{"s":"293 K","t":2.8,"v":0.019},{"s":"293 K","t":3.0,"v":0.016},{"s":"293 K","t":3.2,"v":0.0135},{"s":"293 K","t":3.4,"v":0.0118},{"s":"293 K","t":3.55,"v":0.0105},{"s":"293 K","t":3.67,"v":0.0097}
 ],
 "e":[
  {"T":"293","f":2.0,"c":0.995},{"T":"293","f":2.039,"c":0.994},{"T":"293","f":2.069,"c":0.992},{"T":"293","f":2.108,"c":0.99},{"T":"293","f":2.147,"c":0.987},{"T":"293","f":2.185,"c":0.984},{"T":"293","f":2.205,"c":0.979},{"T":"293","f":2.224,"c":0.982},{"T":"293","f":2.243,"c":0.981},{"T":"293","f":2.263,"c":0.978},{"T":"293","f":2.282,"c":0.987},{"T":"293","f":2.32,"c":0.99},{"T":"293","f":2.378,"c":0.993},{"T":"293","f":2.417,"c":0.995},{"T":"293","f":2.456,"c":0.994},{"T":"293","f":2.514,"c":0.997},{"T":"293","f":2.571,"c":0.996},{"T":"293","f":2.64,"c":0.999},{"T":"293","f":2.7,"c":0.998},{"T":"293","f":2.76,"c":1.0},{"T":"293","f":2.84,"c":0.999},{"T":"293","f":2.92,"c":1.001},{"T":"293","f":3.0,"c":0.999},{"T":"293","f":3.08,"c":1.0},{"T":"293","f":3.16,"c":1.001},{"T":"293","f":3.24,"c":0.999},{"T":"293","f":3.3,"c":1.0},{"T":"293","f":3.34,"c":0.998},{"T":"293","f":3.38,"c":0.991},{"T":"293","f":3.402,"c":0.975},{"T":"293","f":3.413,"c":0.964},{"T":"293","f":3.425,"c":0.968},{"T":"293","f":3.44,"c":0.976},{"T":"293","f":3.459,"c":0.981},{"T":"293","f":3.479,"c":0.975},{"T":"293","f":3.498,"c":0.965},{"T":"293","f":3.517,"c":0.966},{"T":"293","f":3.537,"c":0.973},{"T":"293","f":3.556,"c":0.978},{"T":"293","f":3.595,"c":0.985},{"T":"293","f":3.633,"c":0.99},{"T":"293","f":3.672,"c":0.994},{"T":"293","f":3.71,"c":0.997},{"T":"293","f":3.77,"c":0.999},{"T":"293","f":3.85,"c":1.0},{"T":"293","f":3.92,"c":0.999},{"T":"293","f":4.0,"c":1.0},{"T":"293","f":4.097,"c":1.0},
  {"T":"260","f":2.0,"c":1.077},{"T":"260","f":2.039,"c":1.073},{"T":"260","f":2.069,"c":1.071},{"T":"260","f":2.108,"c":1.072},{"T":"260","f":2.147,"c":1.07},{"T":"260","f":2.185,"c":1.066},{"T":"260","f":2.205,"c":1.063},{"T":"260","f":2.224,"c":1.059},{"T":"260","f":2.243,"c":1.061},{"T":"260","f":2.263,"c":1.064},{"T":"260","f":2.301,"c":1.071},{"T":"260","f":2.34,"c":1.074},{"T":"260","f":2.4,"c":1.076},{"T":"260","f":2.46,"c":1.077},{"T":"260","f":2.53,"c":1.079},{"T":"260","f":2.6,"c":1.078},{"T":"260","f":2.69,"c":1.08},{"T":"260","f":2.76,"c":1.079},{"T":"260","f":2.84,"c":1.081},{"T":"260","f":2.92,"c":1.08},{"T":"260","f":3.0,"c":1.079},{"T":"260","f":3.08,"c":1.081},{"T":"260","f":3.16,"c":1.08},{"T":"260","f":3.24,"c":1.079},{"T":"260","f":3.31,"c":1.08},{"T":"260","f":3.363,"c":1.077},{"T":"260","f":3.382,"c":1.068},{"T":"260","f":3.402,"c":1.064},{"T":"260","f":3.421,"c":1.041},{"T":"260","f":3.44,"c":1.053},{"T":"260","f":3.452,"c":1.062},{"T":"260","f":3.479,"c":1.064},{"T":"260","f":3.498,"c":1.055},{"T":"260","f":3.517,"c":1.046},{"T":"260","f":3.537,"c":1.05},{"T":"260","f":3.556,"c":1.052},{"T":"260","f":3.575,"c":1.058},{"T":"260","f":3.614,"c":1.067},{"T":"260","f":3.653,"c":1.073},{"T":"260","f":3.691,"c":1.076},{"T":"260","f":3.768,"c":1.078},{"T":"260","f":3.85,"c":1.08},{"T":"260","f":3.92,"c":1.079},{"T":"260","f":4.0,"c":1.081},{"T":"260","f":4.097,"c":1.08},
  {"T":"220","f":2.0,"c":1.152},{"T":"220","f":2.05,"c":1.141},{"T":"220","f":2.108,"c":1.133},{"T":"220","f":2.147,"c":1.141},{"T":"220","f":2.166,"c":1.136},{"T":"220","f":2.185,"c":1.129},{"T":"220","f":2.205,"c":1.133},{"T":"220","f":2.224,"c":1.133},{"T":"220","f":2.263,"c":1.137},{"T":"220","f":2.301,"c":1.145},{"T":"220","f":2.34,"c":1.147},{"T":"220","f":2.378,"c":1.148},{"T":"220","f":2.456,"c":1.154},{"T":"220","f":2.533,"c":1.158},{"T":"220","f":2.6,"c":1.159},{"T":"220","f":2.69,"c":1.16},{"T":"220","f":2.76,"c":1.161},{"T":"220","f":2.84,"c":1.159},{"T":"220","f":2.92,"c":1.16},{"T":"220","f":3.0,"c":1.161},{"T":"220","f":3.08,"c":1.16},{"T":"220","f":3.16,"c":1.159},{"T":"220","f":3.24,"c":1.161},{"T":"220","f":3.305,"c":1.16},{"T":"220","f":3.363,"c":1.152},{"T":"220","f":3.402,"c":1.14},{"T":"220","f":3.421,"c":1.125},{"T":"220","f":3.459,"c":1.121},{"T":"220","f":3.498,"c":1.098},{"T":"220","f":3.517,"c":1.083},{"T":"220","f":3.537,"c":1.106},{"T":"220","f":3.575,"c":1.118},{"T":"220","f":3.614,"c":1.129},{"T":"220","f":3.672,"c":1.148},{"T":"220","f":3.73,"c":1.156},{"T":"220","f":3.846,"c":1.16},{"T":"220","f":3.92,"c":1.159},{"T":"220","f":4.0,"c":1.161},{"T":"220","f":4.097,"c":1.16},
  {"T":"180","f":2.0,"c":1.237},{"T":"180","f":2.05,"c":1.223},{"T":"180","f":2.089,"c":1.217},{"T":"180","f":2.127,"c":1.227},{"T":"180","f":2.166,"c":1.208},{"T":"180","f":2.205,"c":1.204},{"T":"180","f":2.243,"c":1.196},{"T":"180","f":2.282,"c":1.208},{"T":"180","f":2.32,"c":1.223},{"T":"180","f":2.378,"c":1.229},{"T":"180","f":2.456,"c":1.235},{"T":"180","f":2.533,"c":1.235},{"T":"180","f":2.591,"c":1.231},{"T":"180","f":2.61,"c":1.238},{"T":"180","f":2.687,"c":1.24},{"T":"180","f":2.764,"c":1.239},{"T":"180","f":2.842,"c":1.241},{"T":"180","f":2.92,"c":1.24},{"T":"180","f":3.0,"c":1.239},{"T":"180","f":3.08,"c":1.241},{"T":"180","f":3.16,"c":1.24},{"T":"180","f":3.24,"c":1.241},{"T":"180","f":3.305,"c":1.241},{"T":"180","f":3.382,"c":1.238},{"T":"180","f":3.421,"c":1.208},{"T":"180","f":3.459,"c":1.184},{"T":"180","f":3.498,"c":1.169},{"T":"180","f":3.517,"c":1.15},{"T":"180","f":3.556,"c":1.177},{"T":"180","f":3.595,"c":1.192},{"T":"180","f":3.633,"c":1.188},{"T":"180","f":3.672,"c":1.208},{"T":"180","f":3.73,"c":1.227},{"T":"180","f":3.807,"c":1.237},{"T":"180","f":3.9,"c":1.24},{"T":"180","f":4.0,"c":1.241},{"T":"180","f":4.097,"c":1.241},
  {"T":"140","f":2.0,"c":1.314},{"T":"140","f":2.039,"c":1.3},{"T":"140","f":2.069,"c":1.296},{"T":"140","f":2.108,"c":1.292},{"T":"140","f":2.147,"c":1.281},{"T":"140","f":2.185,"c":1.261},{"T":"140","f":2.224,"c":1.254},{"T":"140","f":2.263,"c":1.261},{"T":"140","f":2.301,"c":1.269},{"T":"140","f":2.34,"c":1.285},{"T":"140","f":2.378,"c":1.273},{"T":"140","f":2.417,"c":1.288},{"T":"140","f":2.456,"c":1.296},{"T":"140","f":2.494,"c":1.308},{"T":"140","f":2.571,"c":1.315},{"T":"140","f":2.687,"c":1.32},{"T":"140","f":2.76,"c":1.321},{"T":"140","f":2.84,"c":1.319},{"T":"140","f":2.92,"c":1.32},{"T":"140","f":3.0,"c":1.321},{"T":"140","f":3.08,"c":1.319},{"T":"140","f":3.16,"c":1.32},{"T":"140","f":3.24,"c":1.321},{"T":"140","f":3.305,"c":1.322},{"T":"140","f":3.382,"c":1.315},{"T":"140","f":3.44,"c":1.285},{"T":"140","f":3.479,"c":1.261},{"T":"140","f":3.506,"c":1.223},{"T":"140","f":3.525,"c":1.23},{"T":"140","f":3.544,"c":1.269},{"T":"140","f":3.575,"c":1.277},{"T":"140","f":3.614,"c":1.273},{"T":"140","f":3.653,"c":1.285},{"T":"140","f":3.691,"c":1.296},{"T":"140","f":3.768,"c":1.312},{"T":"140","f":3.846,"c":1.317},{"T":"140","f":3.92,"c":1.32},{"T":"140","f":4.0,"c":1.319},{"T":"140","f":4.097,"c":1.32},
  {"T":"100","f":2.0,"c":1.392},{"T":"100","f":2.039,"c":1.377},{"T":"100","f":2.069,"c":1.373},{"T":"100","f":2.108,"c":1.369},{"T":"100","f":2.147,"c":1.354},{"T":"100","f":2.185,"c":1.338},{"T":"100","f":2.224,"c":1.331},{"T":"100","f":2.263,"c":1.354},{"T":"100","f":2.301,"c":1.361},{"T":"100","f":2.34,"c":1.354},{"T":"100","f":2.378,"c":1.358},{"T":"100","f":2.417,"c":1.338},{"T":"100","f":2.436,"c":1.361},{"T":"100","f":2.456,"c":1.381},{"T":"100","f":2.514,"c":1.385},{"T":"100","f":2.571,"c":1.392},{"T":"100","f":2.687,"c":1.4},{"T":"100","f":2.76,"c":1.401},{"T":"100","f":2.84,"c":1.399},{"T":"100","f":2.92,"c":1.4},{"T":"100","f":3.0,"c":1.401},{"T":"100","f":3.08,"c":1.4},{"T":"100","f":3.16,"c":1.399},{"T":"100","f":3.24,"c":1.401},{"T":"100","f":3.305,"c":1.4},{"T":"100","f":3.363,"c":1.392},{"T":"100","f":3.421,"c":1.369},{"T":"100","f":3.459,"c":1.346},{"T":"100","f":3.498,"c":1.323},{"T":"100","f":3.517,"c":1.307},{"T":"100","f":3.544,"c":1.338},{"T":"100","f":3.575,"c":1.346},{"T":"100","f":3.614,"c":1.334},{"T":"100","f":3.653,"c":1.354},{"T":"100","f":3.71,"c":1.377},{"T":"100","f":3.768,"c":1.388},{"T":"100","f":3.846,"c":1.396},{"T":"100","f":3.92,"c":1.4},{"T":"100","f":4.0,"c":1.401},{"T":"100","f":4.097,"c":1.402},
  {"T":"60","f":2.0,"c":1.477},{"T":"60","f":2.039,"c":1.461},{"T":"60","f":2.089,"c":1.45},{"T":"60","f":2.127,"c":1.454},{"T":"60","f":2.166,"c":1.434},{"T":"60","f":2.205,"c":1.427},{"T":"60","f":2.243,"c":1.431},{"T":"60","f":2.301,"c":1.446},{"T":"60","f":2.359,"c":1.454},{"T":"60","f":2.398,"c":1.438},{"T":"60","f":2.436,"c":1.423},{"T":"60","f":2.456,"c":1.454},{"T":"60","f":2.494,"c":1.458},{"T":"60","f":2.571,"c":1.469},{"T":"60","f":2.687,"c":1.478},{"T":"60","f":2.76,"c":1.48},{"T":"60","f":2.84,"c":1.479},{"T":"60","f":2.92,"c":1.481},{"T":"60","f":3.0,"c":1.48},{"T":"60","f":3.08,"c":1.479},{"T":"60","f":3.16,"c":1.481},{"T":"60","f":3.24,"c":1.48},{"T":"60","f":3.305,"c":1.481},{"T":"60","f":3.382,"c":1.469},{"T":"60","f":3.44,"c":1.438},{"T":"60","f":3.479,"c":1.423},{"T":"60","f":3.517,"c":1.4},{"T":"60","f":3.544,"c":1.438},{"T":"60","f":3.575,"c":1.426},{"T":"60","f":3.614,"c":1.411},{"T":"60","f":3.653,"c":1.442},{"T":"60","f":3.71,"c":1.461},{"T":"60","f":3.788,"c":1.473},{"T":"60","f":3.88,"c":1.479},{"T":"60","f":4.0,"c":1.48},{"T":"60","f":4.097,"c":1.481},
  {"T":"20","f":2.0,"c":1.558},{"T":"20","f":2.05,"c":1.546},{"T":"20","f":2.089,"c":1.538},{"T":"20","f":2.127,"c":1.523},{"T":"20","f":2.166,"c":1.519},{"T":"20","f":2.224,"c":1.511},{"T":"20","f":2.263,"c":1.515},{"T":"20","f":2.301,"c":1.5},{"T":"20","f":2.34,"c":1.519},{"T":"20","f":2.378,"c":1.511},{"T":"20","f":2.417,"c":1.5},{"T":"20","f":2.436,"c":1.531},{"T":"20","f":2.475,"c":1.538},{"T":"20","f":2.533,"c":1.538},{"T":"20","f":2.591,"c":1.548},{"T":"20","f":2.687,"c":1.558},{"T":"20","f":2.76,"c":1.56},{"T":"20","f":2.84,"c":1.559},{"T":"20","f":2.92,"c":1.561},{"T":"20","f":3.0,"c":1.56},{"T":"20","f":3.08,"c":1.559},{"T":"20","f":3.16,"c":1.561},{"T":"20","f":3.24,"c":1.56},{"T":"20","f":3.305,"c":1.562},{"T":"20","f":3.382,"c":1.55},{"T":"20","f":3.44,"c":1.523},{"T":"20","f":3.479,"c":1.504},{"T":"20","f":3.506,"c":1.484},{"T":"20","f":3.537,"c":1.511},{"T":"20","f":3.575,"c":1.492},{"T":"20","f":3.614,"c":1.496},{"T":"20","f":3.653,"c":1.508},{"T":"20","f":3.691,"c":1.523},{"T":"20","f":3.768,"c":1.546},{"T":"20","f":3.846,"c":1.554},{"T":"20","f":3.92,"c":1.558},{"T":"20","f":4.0,"c":1.56},{"T":"20","f":4.097,"c":1.562},
  {"T":"7","f":2.0,"c":1.635},{"T":"7","f":2.039,"c":1.619},{"T":"7","f":2.069,"c":1.611},{"T":"7","f":2.108,"c":1.615},{"T":"7","f":2.147,"c":1.611},{"T":"7","f":2.185,"c":1.592},{"T":"7","f":2.224,"c":1.581},{"T":"7","f":2.263,"c":1.554},{"T":"7","f":2.301,"c":1.577},{"T":"7","f":2.34,"c":1.588},{"T":"7","f":2.378,"c":1.573},{"T":"7","f":2.417,"c":1.561},{"T":"7","f":2.456,"c":1.584},{"T":"7","f":2.494,"c":1.6},{"T":"7","f":2.514,"c":1.631},{"T":"7","f":2.552,"c":1.619},{"T":"7","f":2.591,"c":1.615},{"T":"7","f":2.629,"c":1.627},{"T":"7","f":2.687,"c":1.635},{"T":"7","f":2.764,"c":1.638},{"T":"7","f":2.842,"c":1.642},{"T":"7","f":2.92,"c":1.641},{"T":"7","f":3.0,"c":1.642},{"T":"7","f":3.08,"c":1.641},{"T":"7","f":3.16,"c":1.642},{"T":"7","f":3.24,"c":1.64},{"T":"7","f":3.305,"c":1.641},{"T":"7","f":3.382,"c":1.631},{"T":"7","f":3.44,"c":1.6},{"T":"7","f":3.479,"c":1.561},{"T":"7","f":3.506,"c":1.538},{"T":"7","f":3.537,"c":1.519},{"T":"7","f":3.568,"c":1.554},{"T":"7","f":3.595,"c":1.538},{"T":"7","f":3.633,"c":1.573},{"T":"7","f":3.672,"c":1.531},{"T":"7","f":3.71,"c":1.546},{"T":"7","f":3.749,"c":1.569},{"T":"7","f":3.807,"c":1.592},{"T":"7","f":3.846,"c":1.608},{"T":"7","f":3.923,"c":1.631},{"T":"7","f":4.0,"c":1.637},{"T":"7","f":4.097,"c":1.638}
 ],
 "eArrow":[{"k":"ES shift","x1":2.456,"y1":0.971,"x2":2.822,"y2":1.677},{"k":"GS shift","x1":3.757,"y1":0.971,"x2":4.058,"y2":1.681}],
 "eLbl":[{"t":"(e)","x":1.156,"y":1.706}]
},
"concat":[
 {"concat":[
   {"concat":[
     {"width":212,"height":128,
      "title":{"text":"(a)","dx":-90,"offset":-14},
      "view":{"stroke":"black","strokeWidth":1.5},
      "layer":[
       {"data":{"name":"a"},"mark":{"type":"line","strokeWidth":1.4},
        "encoding":{
         "x":{"field":"f","type":"quantitative","scale":{"domain":[1.95,4.1],"nice":false,"zero":false},"axis":{"orient":"bottom","values":[2,3,4],"format":"d","title":"MW Frequency [GHz]","labelPadding":6}},
         "y":{"field":"c","type":"quantitative","scale":{"domain":[0.86,1.04],"nice":false,"zero":false},"axis":{"orient":"left","values":[0.9,1.0],"format":".1f","title":"ODMR Contrast","labelPadding":3}},
         "color":{"field":"s","type":"nominal","scale":{"domain":["Pulsed","CW"],"range":["#000000","#ff0000"]},
          "legend":{"orient":"none","legendX":9,"legendY":5,"direction":"horizontal","title":null,"symbolType":"stroke","symbolSize":240,"symbolStrokeWidth":2,"labelOffset":14,"columnPadding":22,"padding":0,"labelColor":{"expr":"datum.label == 'CW' ? '#ff0000' : '#000000'"}}}
        }},
       {"data":{"values":[]},"mark":"point","encoding":{"x":{"field":"f","type":"quantitative","axis":{"orient":"bottom","values":[2.5,3.5],"labels":false,"domain":false,"tickSize":3,"title":null}},"y":{"field":"c","type":"quantitative","axis":{"orient":"left","values":[0.95],"labels":false,"domain":false,"tickSize":3,"title":null}}}},
       {"data":{"name":"aTxt"},"transform":[{"filter":"datum.t == 'ES'"}],"mark":{"type":"text","align":"left","baseline":"middle","fontSize":18,"color":"#1a1aff"},"encoding":{"x":{"field":"x","type":"quantitative","axis":null},"y":{"field":"y","type":"quantitative","axis":null},"text":{"field":"t"}}},
       {"data":{"name":"aTxt"},"transform":[{"filter":"datum.t == 'GS'"}],"mark":{"type":"text","align":"left","baseline":"middle","fontSize":18,"color":"#000000"},"encoding":{"x":{"field":"x","type":"quantitative","axis":null},"y":{"field":"y","type":"quantitative","axis":null},"text":{"field":"t"}}}
      ],
      "resolve":{"axis":{"x":"independent","y":"independent"}}
     },
     {"width":161,"height":157,
      "title":{"text":"(b)","dx":-90,"offset":-3},
      "layer":[
       {"data":{"name":"b"},"mark":{"type":"rect"},
        "encoding":{
         "x":{"field":"x1","type":"quantitative","scale":{"domain":[2,4],"nice":false,"zero":false},"axis":{"orient":"bottom","values":[2,3,4],"format":"d","title":"MW-1 Frequency [GHz]","labelPadding":7,"titlePadding":10}},
         "x2":{"field":"x2"},
         "y":{"field":"y1","type":"quantitative","scale":{"domain":[2.3,2.7],"nice":false,"zero":false},"axis":{"orient":"left","values":[2.3,2.5,2.7],"format":".1f","title":"MW-2 Frequency [GHz]","labelPadding":3}},
         "y2":{"field":"y2"},
         "color":{"field":"v","type":"quantitative","scale":{"domain":[0.9,0.95,1.0],"range":["#ff0000","#ffffff","#0a14ff"],"clamp":true},
          "legend":{"orient":"none","legendX":162,"legendY":3,"title":null,"gradientLength":142,"gradientThickness":10,"gradientStrokeWidth":0,"values":[0.9,0.95,1.0],"format":".2f","labelFontSize":17,"labelOffset":3,"direction":"vertical","padding":0}}
        }},
       {"data":{"values":[]},"mark":"point","encoding":{"x":{"field":"x1","type":"quantitative","axis":{"orient":"bottom","values":[2.5,3.5],"labels":false,"domain":false,"tickSize":3,"title":null}},"y":{"field":"y1","type":"quantitative","axis":{"orient":"left","values":[2.4,2.6],"labels":false,"domain":false,"tickSize":3,"title":null}}}},
       {"data":{"name":"bTxt"},"mark":{"type":"text","align":"left","baseline":"middle","fontSize":18,"color":"#ffffff"},"encoding":{"x":{"field":"x","type":"quantitative","axis":null},"y":{"field":"y","type":"quantitative","axis":null},"text":{"field":"t"}}},
       {"data":{"name":"bLbl"},"mark":{"type":"text","align":"right","baseline":"middle","fontSize":18,"color":"#000000"},"encoding":{"x":{"field":"x","type":"quantitative","axis":null},"y":{"field":"y","type":"quantitative","axis":null},"text":{"field":"t"}}}
      ],
      "resolve":{"axis":{"x":"independent","y":"independent"}}
     }
   ],"columns":1,"spacing":-1,"align":"none",
   "resolve":{"scale":{"x":"independent","y":"independent","color":"independent"},"axis":{"x":"independent","y":"independent"},"legend":{"color":"independent"}}},
   {"width":215,"height":120,
    "title":{"text":"(d)","dx":-90,"offset":-14},
    "layer":[
     {"data":{"name":"d"},"mark":{"type":"line","strokeWidth":2,"clip":true},
      "encoding":{
       "x":{"field":"t","type":"quantitative","scale":{"domain":[0,14],"nice":false,"zero":false},"axis":{"orient":"bottom","values":[0,7,14],"format":"d","title":"Time [ns]","labelPadding":3}},
       "y":{"field":"v","type":"quantitative","scale":{"type":"log","domain":[0.01,1],"nice":false},"axis":{"orient":"left","values":[0.01,0.1,1],"labelExpr":"datum.value > 0.5 ? '10⁰' : datum.value > 0.05 ? '10⁻¹' : '10⁻²'","title":"Normalized PL","labelPadding":4}},
       "color":{"field":"s","type":"nominal","scale":{"domain":["4 K","70 K","180 K","293 K","IRF"],"range":["#ffff00","#ff6f1f","#8b0d0d","#3d0606","#c4c4c4"]},
        "legend":{"orient":"none","legendX":152,"legendY":-11,"title":null,"symbolType":"stroke","symbolSize":256,"symbolStrokeWidth":2,"labelOffset":14,"rowPadding":6,"padding":2,"fillColor":"white","labelColor":{"expr":"['#e8b030','#d41a22','#8b1a1a','#72164e','#c8c8c8'][datum.index]"}}}
      }},
     {"data":{"values":[]},"mark":"point","encoding":{"x":{"field":"t","type":"quantitative","axis":{"orient":"top","labels":false,"ticks":false,"domain":true,"title":null}},"y":{"field":"v","type":"quantitative","axis":{"orient":"left","values":[0.02,0.03,0.04,0.05,0.06,0.07,0.08,0.09,0.2,0.3,0.4,0.5,0.6,0.7,0.8,0.9],"labels":false,"domain":false,"tickSize":3,"title":null}}}}
    ],
    "resolve":{"axis":{"x":"independent","y":"independent"}}
   }
 ],"columns":1,"spacing":6,"align":"none",
 "resolve":{"scale":{"x":"independent","y":"independent","color":"independent"},"axis":{"x":"independent","y":"independent"},"legend":{"color":"independent"}}},
 {"concat":[
   {"width":228,"height":189,
    "title":{"text":"(c)","dx":-73,"offset":-12},
    "layer":[
     {"data":{"name":"c"},"mark":{"type":"line","strokeWidth":1.8},
      "encoding":{
       "x":{"field":"f","type":"quantitative","scale":{"domain":[1.79,4.21],"nice":false,"zero":false},"axis":{"orient":"bottom","values":[2,3,4],"format":"d","title":"MW-1 Frequency [GHz]","labelPadding":6}},
       "y":{"field":"c","type":"quantitative","scale":{"domain":[0.789,1.016],"nice":false,"zero":false},"axis":{"orient":"left","values":[0.8,0.9,1.0],"format":".1f","title":"ODMR Contrast","labelPadding":2}},
       "color":{"field":"p","type":"nominal","scale":{"domain":["OFF","-6 dBm","-3 dBm","0 dBm","3 dBm","6 dBm"],"range":["#5c0a0a","#ff1a0a","#ff4d12","#ff8a1c","#f9b062","#f6d9a2"]},
        "legend":{"orient":"none","legendX":164,"legendY":33,"title":"MW-2","titleAnchor":"middle","titlePadding":3,"symbolType":"stroke","symbolSize":64,"symbolStrokeWidth":2,"labelOffset":10,"rowPadding":3,"padding":0,"labelExpr":"indexof(['OFF','0 dBm','3 dBm','6 dBm'], datum.label) >= 0 ? '\u00a0\u00a0' + datum.label : datum.label","labelColor":{"expr":"['#5c0a0a','#ff1a0a','#ff4d12','#ff8a1c','#f9b062','#f6d9a2'][datum.index]"}}}
      }},
     {"data":{"name":"cRule"},"mark":{"type":"rule","strokeDash":[6,4],"color":"#555555","strokeWidth":1.5},"encoding":{"x":{"field":"x","type":"quantitative","axis":null},"y":{"field":"y1","type":"quantitative","axis":null},"y2":{"field":"y2"}}},
     {"data":{"values":[]},"mark":"point","encoding":{"x":{"field":"f","type":"quantitative","axis":{"orient":"bottom","values":[2.5,3.5],"labels":false,"domain":false,"tickSize":3,"title":null}},"y":{"field":"c","type":"quantitative","axis":{"orient":"left","values":[0.85,0.95],"labels":false,"domain":false,"tickSize":3,"title":null}}}},
     {"data":{"values":[]},"mark":"point","encoding":{"x":{"field":"f","type":"quantitative","axis":{"orient":"top","labels":false,"ticks":false,"domain":true,"title":null}},"y":{"field":"c","type":"quantitative","axis":null}}},
     {"data":{"name":"cTxt"},"transform":[{"filter":"datum.t == 'GS'"}],"mark":{"type":"text","align":"center","baseline":"middle","fontSize":18,"color":"#000000"},"encoding":{"x":{"field":"x","type":"quantitative","axis":null},"y":{"field":"y","type":"quantitative","axis":null},"text":{"field":"t"}}},
     {"data":{"name":"cTxt"},"transform":[{"filter":"datum.t == 'ES'"}],"mark":{"type":"text","align":"center","baseline":"middle","fontSize":18,"color":"#1a1aff"},"encoding":{"x":{"field":"x","type":"quantitative","axis":null},"y":{"field":"y","type":"quantitative","axis":null},"text":{"field":"t"}}}
    ],
    "resolve":{"axis":{"x":"independent","y":"independent"}}
   },
   {"width":182,"height":315,
    "layer":[
     {"data":{"name":"e"},"mark":{"type":"line","strokeWidth":2.8},
      "encoding":{
       "x":{"field":"f","type":"quantitative","scale":{"domain":[2.0,4.1],"nice":false,"zero":false},"axis":{"orient":"bottom","values":[2,3,4],"format":"d","title":"MW Frequency [GHz]","labelPadding":3,"titlePadding":8}},
       "y":{"field":"c","type":"quantitative","scale":{"domain":[0.952,1.678],"nice":false,"zero":false},"axis":{"orient":"left","values":[1.0,1.2,1.4,1.6],"format":".1f","title":"ODMR Contrast","labelPadding":6}},
       "color":{"field":"T","type":"nominal","scale":{"domain":["7","20","60","100","140","180","220","260","293"],"range":["#f3e3b8","#f5cb8d","#f6b465","#f89d3c","#ff8503","#ff5714","#ff1c1c","#c20a0a","#6b0808"]},"legend":null}
      }},
     {"data":{"values":[]},"mark":"point","encoding":{"x":{"field":"f","type":"quantitative","axis":{"orient":"bottom","values":[2.5,3.5],"labels":false,"domain":false,"tickSize":3,"title":null}},"y":{"field":"c","type":"quantitative","axis":{"orient":"left","values":[1.1,1.3,1.5],"labels":false,"domain":false,"tickSize":3,"title":null}}}},
     {"data":{"values":[]},"mark":"point","encoding":{"x":{"field":"f","type":"quantitative","axis":{"orient":"top","labels":false,"ticks":false,"domain":true,"title":null}},"y":{"field":"c","type":"quantitative","axis":{"orient":"right","values":[1.0,1.08,1.16,1.24,1.32,1.4,1.48,1.56,1.64],"ticks":false,"labelPadding":5,"labelExpr":"['293','260','220','180','140','100','60','20','7'][round((datum.value - 1) / 0.08)]","title":"Temperature [K]","titleAngle":270,"titlePadding":24}}}},
     {"data":{"name":"eArrow"},"transform":[{"filter":"datum.k == 'ES shift'"}],"mark":{"type":"rule","color":"#8c8cff","strokeWidth":2},"encoding":{"x":{"field":"x1","type":"quantitative","axis":null},"y":{"field":"y1","type":"quantitative","axis":null},"x2":{"field":"x2"},"y2":{"field":"y2"}}},
     {"data":{"name":"eArrow"},"transform":[{"filter":"datum.k == 'GS shift'"}],"mark":{"type":"rule","color":"#ff0000","strokeWidth":2},"encoding":{"x":{"field":"x1","type":"quantitative","axis":null},"y":{"field":"y1","type":"quantitative","axis":null},"x2":{"field":"x2"},"y2":{"field":"y2"}}},
     {"data":{"name":"eArrow"},"transform":[{"filter":"datum.k == 'ES shift'"}],"mark":{"type":"point","shape":"M0,0L0.3,1.2L-0.3,1.2Z","size":900,"filled":true,"opacity":1,"color":"#0000ff","angle":6},"encoding":{"x":{"field":"x2","type":"quantitative","axis":null},"y":{"field":"y2","type":"quantitative","axis":null}}},
     {"data":{"name":"eArrow"},"transform":[{"filter":"datum.k == 'GS shift'"}],"mark":{"type":"point","shape":"M0,0L0.3,1.2L-0.3,1.2Z","size":900,"filled":true,"opacity":1,"color":"#ff0000","angle":5},"encoding":{"x":{"field":"x2","type":"quantitative","axis":null},"y":{"field":"y2","type":"quantitative","axis":null}}},
     {"data":{"name":"eLbl"},"mark":{"type":"text","align":"left","baseline":"top","fontSize":22,"color":"#000000"},"encoding":{"x":{"field":"x","type":"quantitative","axis":null},"y":{"field":"y","type":"quantitative","axis":null},"text":{"field":"t"}}}
    ],
    "resolve":{"axis":{"x":"independent","y":"independent"}}
   }
 ],"columns":1,"spacing":9,"align":"none",
 "resolve":{"scale":{"x":"independent","y":"independent","color":"independent"},"axis":{"x":"independent","y":"independent"},"legend":{"color":"independent"}}}
],
"columns":2,
"spacing":-7,
"align":"none",
"resolve":{"scale":{"x":"independent","y":"independent","color":"independent"},"axis":{"x":"independent","y":"independent"},"legend":{"color":"independent"}}
}
